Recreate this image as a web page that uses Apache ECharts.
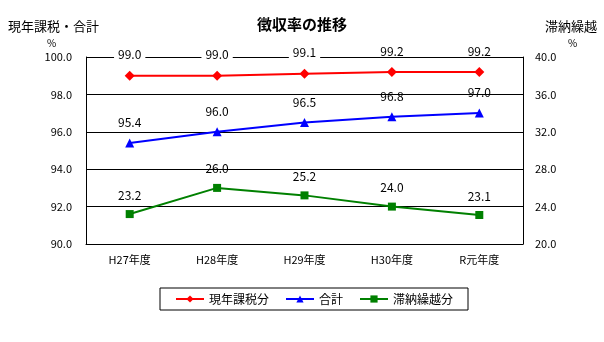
<!DOCTYPE html>
<html><head><meta charset="utf-8">
<script src="https://cdn.jsdelivr.net/npm/echarts@6/dist/echarts.min.js"></script>
<style>html,body{margin:0;padding:0;background:#fff}#c{width:604px;height:342px}</style>
</head><body><div id="c"></div>
<script>
const categories = ['H27年度','H28年度','H29年度','H30年度','R元年度'];
const currentTax = [99.0, 99.0, 99.1, 99.2, 99.2];
const total = [95.4, 96.0, 96.5, 96.8, 97.0];
const arrears = [23.2, 26.0, 25.2, 24.0, 23.1];
const leftTicks = {min: 90, max: 100, interval: 2};
const rightTicks = {min: 20, max: 40, interval: 4};

const F = '"Noto Sans CJK JP", sans-serif';
const chart = echarts.init(document.getElementById('c'));
const lbl = (extra) => Object.assign({show: true, position: 'top', distance: 9, color: '#000', fontSize: 12, fontFamily: F, formatter: p => p.value.toFixed(1)}, extra || {});
chart.setOption({
  animation: false,
  backgroundColor: '#fff',
  title: {text: '徴収率の推移', left: 'center', top: 12, textStyle: {fontSize: 15, fontWeight: 'bold', fontFamily: F, color: '#000'}},
  graphic: [
    {type: 'text', left: 8, top: 20, style: {text: '現年課税・合計', font: '13px ' + F, fill: '#000'}},
    {type: 'text', left: 47, top: 38, style: {text: '%', font: '10px ' + F, fill: '#000'}},
    {type: 'text', left: 545, top: 20, style: {text: '滞納繰越', font: '13px ' + F, fill: '#000'}},
    {type: 'text', left: 568, top: 38, style: {text: '%', font: '10px ' + F, fill: '#000'}}
  ],
  legend: {
    top: 288, left: 160, itemWidth: 28, itemHeight: 9, itemGap: 16,
    borderColor: '#000', borderWidth: 1, padding: [5, 15, 5, 15],
    textStyle: {fontSize: 12, fontFamily: F, color: '#000'},
    data: ['現年課税分', '合計', '滞納繰越分']
  },
  grid: {left: 86, right: 81, top: 57, bottom: 98},
  xAxis: {
    type: 'category', data: categories, boundaryGap: true,
    axisLine: {lineStyle: {color: '#000', width: 1}},
    axisTick: {inside: true, length: 4, lineStyle: {color: '#000'}},
    axisLabel: {fontSize: 11, fontFamily: F, color: '#000', margin: 10}
  },
  yAxis: [
    {type: 'value', min: leftTicks.min, max: leftTicks.max, interval: leftTicks.interval,
     axisLine: {show: true, lineStyle: {color: '#000'}}, axisTick: {show: false},
     splitLine: {lineStyle: {color: '#000', width: 1}},
     axisLabel: {fontSize: 11, fontFamily: F, color: '#000', margin: 14, formatter: v => v.toFixed(1)}},
    {type: 'value', min: rightTicks.min, max: rightTicks.max, interval: rightTicks.interval,
     axisLine: {show: true, lineStyle: {color: '#000'}}, axisTick: {show: false},
     splitLine: {show: false},
     axisLabel: {fontSize: 11, fontFamily: F, color: '#000', margin: 12, formatter: v => v.toFixed(1)}}
  ],
  series: [
    {name: '現年課税分', type: 'line', yAxisIndex: 0, data: currentTax, symbol: 'diamond', symbolSize: 10,
     lineStyle: {color: '#ff0000', width: 2}, itemStyle: {color: '#ff0000'},
     label: lbl({distance: 10, backgroundColor: '#fff', padding: [0, 4]})},
    {name: '合計', type: 'line', yAxisIndex: 0, data: total, symbol: 'triangle', symbolSize: 9,
     lineStyle: {color: '#0000ff', width: 2}, itemStyle: {color: '#0000ff'},
     label: lbl({distance: 10})},
    {name: '滞納繰越分', type: 'line', yAxisIndex: 1, data: arrears, symbol: 'rect', symbolSize: 8,
     lineStyle: {color: '#008000', width: 2}, itemStyle: {color: '#008000'},
     label: lbl({distance: 9})}
  ]
});
</script></body></html>
